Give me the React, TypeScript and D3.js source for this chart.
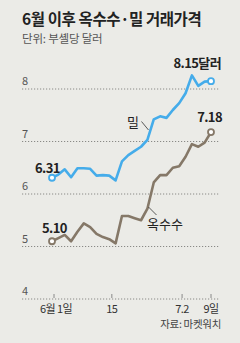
import { useEffect, useRef } from 'react';
import * as d3 from 'd3';

// trading days, 2012-06-01 .. 2012-07-09
const days = [
  '6/1', '6/4', '6/5', '6/6', '6/7', '6/8', '6/11', '6/12', '6/13', '6/14', '6/15',
  '6/18', '6/19', '6/20', '6/21', '6/22', '6/25', '6/26', '6/27', '6/28', '6/29',
  '7/2', '7/3', '7/5', '7/6', '7/9',
];
const wheat = [
  6.31, 6.37, 6.47, 6.32, 6.49, 6.49, 6.48, 6.35, 6.36, 6.35, 6.26,
  6.62, 6.74, 6.82, 6.9, 7.03, 7.42, 7.48, 7.45, 7.6, 7.73,
  7.92, 8.26, 8.06, 8.14, 8.15,
];
const corn = [
  5.1, 5.16, 5.22, 5.1, 5.28, 5.44, 5.37, 5.24, 5.18, 5.14, 5.06,
  5.58, 5.58, 5.54, 5.5, 5.72, 6.22, 6.36, 6.36, 6.5, 6.53,
  6.71, 6.95, 6.9, 6.98, 7.18,
];
const yTicks = [4, 5, 6, 7, 8];
const xTickDates = ['2012-06-01', '2012-06-15', '2012-07-02', '2012-07-09'];
const xTickLabels = ['6월 1일', '15', '7.2', '9일'];

const FONT = '"Noto Sans CJK KR", "Noto Sans", sans-serif';
const BLUE = '#45acea';
const BROWN = '#857868';

export default function App() {
  const svgRef = useRef<SVGSVGElement>(null);

  useEffect(() => {
    document.body.style.margin = '0';
    const el = svgRef.current;
    if (!el) return;
    const svg = d3.select(el);
    svg.selectAll('*').remove();

    svg.append('rect').attr('width', 240).attr('height', 343).attr('fill', '#ebebe7');

    const x = d3.scalePoint<string>().domain(days).range([52, 211]);
    const xt = d3.scaleTime()
      .domain([new Date('2012-06-01'), new Date('2012-07-09')])
      .range([54, 211]);
    const y = d3.scaleLinear().domain([4, 8]).range([299, 89]);

    // title
    svg.append('text')
      .attr('x', 22).attr('y', 25)
      .attr('font-family', FONT).attr('font-size', 15.5).attr('font-weight', 700)
      .attr('letter-spacing', -0.4)
      .attr('fill', '#222')
      .text('6월 이후 옥수수·밀 거래가격');
    svg.append('text')
      .attr('x', 22).attr('y', 42.5)
      .attr('font-family', FONT).attr('font-size', 11.5)
      .attr('letter-spacing', -0.2)
      .attr('fill', '#555')
      .text('단위: 부셸당 달러');

    // grid
    const grid = svg.append('g');
    yTicks.forEach((t) => {
      grid.append('line')
        .attr('x1', 22).attr('x2', 220)
        .attr('y1', y(t)).attr('y2', y(t))
        .attr('stroke', '#8a8a86').attr('stroke-width', 1)
        .attr('stroke-dasharray', '1.2,1.8');
      grid.append('text')
        .attr('x', 22).attr('y', y(t) - 4)
        .attr('font-family', FONT).attr('font-size', 11)
        .attr('fill', '#555')
        .text(t);
    });

    // x ticks
    xTickDates.forEach((d, i) => {
      const px = xt(new Date(d));
      svg.append('line')
        .attr('x1', px).attr('x2', px)
        .attr('y1', y(4) - 5).attr('y2', y(4) - 1)
        .attr('stroke', '#888').attr('stroke-width', 1);
      svg.append('text')
        .attr('x', px + (i === 0 ? 2 : 0)).attr('y', 313)
        .attr('text-anchor', 'middle')
        .attr('font-family', FONT).attr('font-size', 11)
        .attr('letter-spacing', -0.6)
        .attr('fill', '#333')
        .text(xTickLabels[i]);
    });

    const line = d3.line<number>()
      .x((_, i) => x(days[i]) as number)
      .y((d) => y(d));

    const drawSeries = (vals: number[], color: string) => {
      svg.append('path')
        .datum(vals)
        .attr('fill', 'none')
        .attr('stroke', color)
        .attr('stroke-width', 2.6)
        .attr('stroke-linejoin', 'round')
        .attr('d', line);
      [0, vals.length - 1].forEach((i) => {
        svg.append('circle')
          .attr('cx', x(days[i]) as number)
          .attr('cy', y(vals[i]))
          .attr('r', 3)
          .attr('fill', '#fff')
          .attr('stroke', color)
          .attr('stroke-width', 1.8);
      });
    };
    drawSeries(corn, BROWN);
    drawSeries(wheat, BLUE);

    // value labels
    const valueLabel = (txt: string, px: number, py: number, anchor = 'start') => {
      svg.append('text')
        .attr('x', px).attr('y', py)
        .attr('text-anchor', anchor)
        .attr('font-family', FONT).attr('font-size', 13).attr('font-weight', 700)
        .attr('letter-spacing', -0.6)
        .attr('fill', '#222')
        .text(txt);
    };
    const last = wheat.length - 1;
    valueLabel(wheat[0].toFixed(2), x(days[0])! - 17, y(wheat[0]) - 5);
    valueLabel(corn[0].toFixed(2), x(days[0])! - 10, y(corn[0]) - 8);
    valueLabel(wheat[last].toFixed(2) + '달러', 221, y(wheat[last]) - 13, 'end');
    valueLabel(corn[last].toFixed(2), 222, y(corn[last]) - 10, 'end');

    // series names with leaders
    const seriesName = (txt: string, px: number, py: number, lx1: number, ly1: number, lx2: number, ly2: number) => {
      svg.append('line')
        .attr('x1', lx1).attr('y1', ly1).attr('x2', lx2).attr('y2', ly2)
        .attr('stroke', '#333').attr('stroke-width', 0.8);
      svg.append('text')
        .attr('x', px).attr('y', py)
        .attr('font-family', FONT).attr('font-size', 13)
        .attr('fill', '#222')
        .text(txt);
    };
    seriesName('밀', 127, 127, 141.5, 121.5, 148.5, 130);
    seriesName('옥수수', 147, 229, 148.5, 207, 156.5, 215);

    // source
    svg.append('text')
      .attr('x', 221).attr('y', 328)
      .attr('text-anchor', 'end')
      .attr('font-family', FONT).attr('font-size', 10.5)
      .attr('letter-spacing', -0.3)
      .attr('fill', '#444')
      .text('자료: 마켓워치');
  }, []);

  return <svg ref={svgRef} width={240} height={343} style={{ display: 'block' }} />;
}
